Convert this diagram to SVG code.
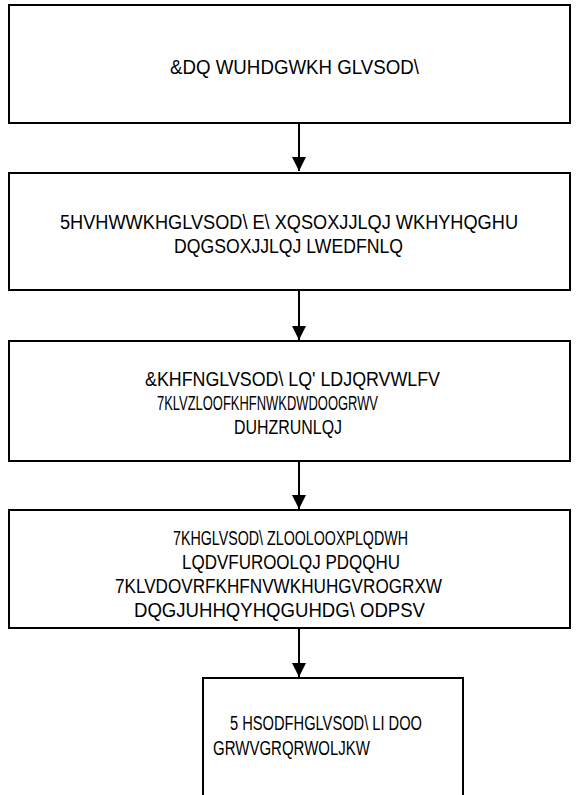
<svg xmlns="http://www.w3.org/2000/svg" width="577" height="795" viewBox="0 0 577 795">
<style>
.box{fill:#fff;stroke:#000;stroke-width:2}
.t{font-family:"Liberation Sans",Arial,sans-serif;font-size:20px;fill:#000}
.c{stroke:#000;stroke-width:2;fill:none}
</style>
<defs>
<marker id="ah" markerWidth="14" markerHeight="14" refX="10" refY="5" orient="auto" markerUnits="userSpaceOnUse" viewBox="0 0 10 10">
<path d="M0,0 L10,5 L0,10 z" fill="#000"/>
</marker>
</defs>
<rect width="577" height="795" fill="#fff"/>
<g id="connectors">
<line class="c" x1="299" y1="124" x2="299" y2="171" marker-end="url(#ah)"/>
<line class="c" x1="299" y1="291" x2="299" y2="340" marker-end="url(#ah)"/>
<line class="c" x1="299" y1="462" x2="299" y2="509" marker-end="url(#ah)"/>
<line class="c" x1="299" y1="629" x2="299" y2="677" marker-end="url(#ah)"/>
</g>
<g id="n1">
<rect class="box" x="9" y="5" width="561" height="118"/>
<text class="t" x="170" y="74" textLength="249" lengthAdjust="spacingAndGlyphs">&amp;DQ WUHDGWKH GLVSOD\</text>
</g>
<g id="n2">
<rect class="box" x="9" y="173" width="561" height="117"/>
<text class="t" x="60" y="229" textLength="458" lengthAdjust="spacingAndGlyphs">5HVHWWKHGLVSOD\ E\ XQSOXJJLQJ WKHYHQGHU</text>
<text class="t" x="174" y="253" textLength="229" lengthAdjust="spacingAndGlyphs">DQGSOXJJLQJ LWEDFNLQ</text>
</g>
<g id="n3">
<rect class="box" x="9" y="341" width="561" height="120"/>
<text class="t" x="145" y="386" textLength="295" lengthAdjust="spacingAndGlyphs">&amp;KHFNGLVSOD\ LQ' LDJQRVWLFV</text>
<text class="t" x="157" y="410" textLength="221" lengthAdjust="spacingAndGlyphs">7KLVZLOOFKHFNWKDWDOOGRWV</text>
<text class="t" x="234" y="434" textLength="108" lengthAdjust="spacingAndGlyphs">DUHZRUNLQJ</text>
</g>
<g id="n4">
<rect class="box" x="9" y="510" width="561" height="118"/>
<text class="t" x="173" y="545" textLength="235" lengthAdjust="spacingAndGlyphs">7KHGLVSOD\ ZLOOLOOXPLQDWH</text>
<text class="t" x="182" y="569" textLength="218" lengthAdjust="spacingAndGlyphs">LQDVFUROOLQJ PDQQHU</text>
<text class="t" x="115" y="593" textLength="327" lengthAdjust="spacingAndGlyphs">7KLVDOVRFKHFNVWKHUHGVROGRXW</text>
<text class="t" x="134" y="617" textLength="291" lengthAdjust="spacingAndGlyphs">DQGJUHHQYHQGUHDG\ ODPSV</text>
</g>
<g id="n5">
<rect class="box" x="203" y="678" width="260" height="130"/>
<text class="t" x="230" y="730" textLength="192" lengthAdjust="spacingAndGlyphs">5 HSODFHGLVSOD\ LI DOO</text>
<text class="t" x="213" y="755" textLength="157" lengthAdjust="spacingAndGlyphs">GRWVGRQRWOLJKW</text>
</g>
</svg>
